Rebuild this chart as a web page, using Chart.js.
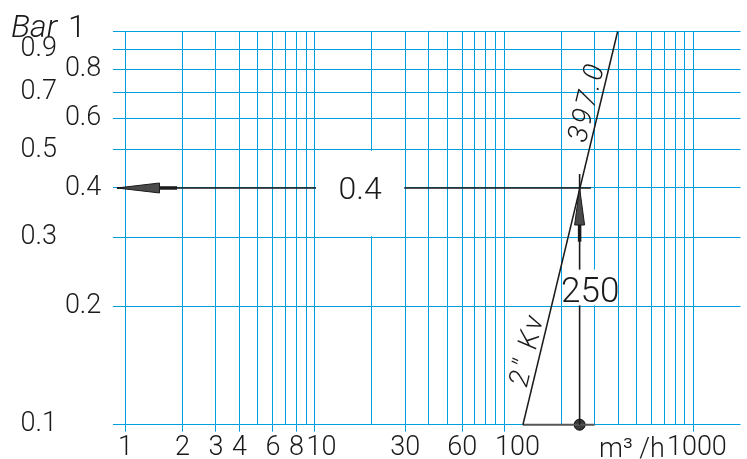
<!DOCTYPE html>
<html><head><meta charset="utf-8">
<script src="https://cdn.jsdelivr.net/npm/chart.js@4/dist/chart.umd.min.js"></script>
<style>html,body{margin:0;padding:0;background:#fff;overflow:hidden;}#wrap{width:747px;height:459px;position:relative;}canvas{display:block;}</style>
</head><body><div id="wrap"><canvas id="c"></canvas></div>
<script>
// ---- data ----
const qTicks = [1,2,3,4,5,6,7,8,9,10,20,30,40,50,60,70,80,90,100,200,300,400,500,600,700,800,900,1000];
const qLabelValues = [1,2,3,4,6,8,10,30,60,100,1000];
const qLabelTexts = ['1','2','3','4','6','8','  10','30','60','    100',' 1000'];
const dpGrid = [0.1,0.2,0.3,0.4,0.5,0.6,0.7,0.8,0.9,1];
const dpInnerLabels = [0.2,0.4,0.6,0.8];
const dpOuterLabels = [0.1,0.3,0.5,0.7,0.9];
const kvQ = [125.5, 397];
const kvDp = [0.1, 1];
const readQ = [250, 250];
const readDp = [0.1, 0.434];
const leaderQ = [0.9, 287];
const leaderDp = [0.4, 0.4];
const baseQ = [125.5, 300];
const baseDp = [0.1, 0.1];
const markerQ = [250];
const markerDp = [0.1];
const kvText = '397.0';
const sizeText = '2" Kv';
const readText = '250';
const dpText = '0.4';

const pts = (xs, ys) => xs.map((v, i) => ({x: v, y: ys[i]}));
const BLUE = '#00a0e0';
const INK = '#1a1a1a';
const FONT = 'Roboto, "DejaVu Sans", sans-serif';

const overlay = {
  id: 'overlay',
  afterDatasetsDraw(chart) {
    const {ctx} = chart;
    const x = chart.scales.x, y = chart.scales.y;
    const X = v => x.getPixelForValue(v), Y = v => y.getPixelForValue(v);
    ctx.save();
    // arrow heads
    ctx.fillStyle = '#4a4a4a'; ctx.strokeStyle = INK; ctx.lineWidth = 1;
    const hy = Y(0.4), tip = X(0.9), hb = X(1.51), hs = X(1.87);
    ctx.beginPath(); ctx.moveTo(tip, hy); ctx.lineTo(hb, hy - 5); ctx.lineTo(hb, hy + 5); ctx.closePath(); ctx.fill(); ctx.stroke();
    ctx.lineWidth = 3.5; ctx.beginPath(); ctx.moveTo(hb, hy); ctx.lineTo(hs, hy); ctx.stroke();
    const vx = X(250), vt = Y(0.4), vb = Y(0.322), vs = Y(0.292);
    ctx.lineWidth = 1;
    ctx.beginPath(); ctx.moveTo(vx, vt); ctx.lineTo(vx - 5, vb); ctx.lineTo(vx + 5, vb); ctx.closePath(); ctx.fill(); ctx.stroke();
    ctx.lineWidth = 3.5; ctx.beginPath(); ctx.moveTo(vx, vb); ctx.lineTo(vx, vs); ctx.stroke();
    // white label boxes
    ctx.fillStyle = '#fff';
    const b1 = [X(10) + 1, Y(0.5) + 1, X(30) - 1, Y(0.3) - 1];
    ctx.fillRect(b1[0], b1[1], b1[2] - b1[0], b1[3] - b1[1]);
    const b2 = [X(200) + 1.5, Y(0.248), X(392), Y(0.2) - 1];
    ctx.fillRect(b2[0], b2[1], b2[2] - b2[0], b2[3] - b2[1]);
    // texts
    ctx.fillStyle = INK;
    ctx.textAlign = 'center'; ctx.textBaseline = 'alphabetic';
    ctx.font = '300 32px ' + FONT;
    ctx.fillText(dpText, (b1[0] + b1[2]) / 2, Y(0.4) + 11);
    ctx.font = '300 35px ' + FONT;
    ctx.fillText(readText, (b2[0] + b2[2]) / 2 + 0.5, Y(0.2) - 4.5);
    // rotated texts along Kv line
    const p0 = {x: X(kvQ[0]), y: Y(kvDp[0])}, p1 = {x: X(kvQ[1]), y: Y(kvDp[1])};
    const ang = Math.atan2(p1.y - p0.y, p1.x - p0.x);
    const along = (t, f, off, size, sp) => {
      const px = p0.x + (p1.x - p0.x) * f, py = p0.y + (p1.y - p0.y) * f;
      ctx.save(); ctx.translate(px, py); ctx.rotate(ang);
      ctx.font = 'italic 300 ' + size + 'px ' + FONT;
      try { ctx.letterSpacing = sp + 'px'; } catch (e) {}
      ctx.textAlign = 'center'; ctx.textBaseline = 'alphabetic';
      ctx.fillText(t, 0, -off); ctx.restore();
    };
    along(kvText, (p0.y - 105) / (p0.y - p1.y), 5, 28, 3);
    along(sizeText, (p0.y - 353) / (p0.y - p1.y), 5, 28, 3);
    // axis captions
    ctx.textAlign = 'left';
    ctx.font = 'italic 300 32px ' + FONT;
    ctx.fillText('Bar', 11, 37);
    ctx.font = '300 32px ' + FONT;
    ctx.fillText('1', 68, 37);
    ctx.font = '300 27px ' + FONT;
    ctx.fillText('m\u00B3 /h', 599, 457);
    ctx.restore();
  }
};

const logAxisY = (vals, width, pad, showGrid, labelVals, weight) => ({
  type: 'logarithmic', position: 'left', min: 0.1, max: 1, weight: weight,
  afterBuildTicks: s => { s.ticks = vals.map(v => ({value: v})); },
  afterFit: s => { s.width = width; s.paddingTop = 0; s.paddingBottom = 0; },
  border: {display: false},
  grid: {display: showGrid, color: BLUE, lineWidth: 1, drawTicks: false},
  ticks: {
    autoSkip: false, padding: pad, color: INK,
    font: {family: FONT, size: 27, weight: 300},
    callback: v => labelVals.includes(v) ? v.toFixed(1) : ''
  }
});

new Chart(document.getElementById('c'), {
  type: 'line',
  data: {
    datasets: [
      {data: pts(kvQ, kvDp), borderColor: INK, borderWidth: 1.5, pointRadius: 0, clip: false},
      {data: pts(leaderQ, leaderDp), borderColor: INK, borderWidth: 1.6, pointRadius: 0, clip: false},
      {data: pts(readQ, readDp), borderColor: INK, borderWidth: 1.6, pointRadius: 0, clip: false},
      {data: pts(baseQ, baseDp), borderColor: '#555', borderWidth: 2, pointRadius: 0, clip: false},
      {data: pts(markerQ, markerDp), showLine: false, pointRadius: 5.5, pointStyle: 'circle',
       pointBackgroundColor: '#3a3a3a', pointBorderColor: '#000', pointBorderWidth: 1, clip: false}
    ]
  },
  options: {
    responsive: true, maintainAspectRatio: false, animation: false, devicePixelRatio: 1,
    layout: {padding: {top: 31.5, right: 0, left: 0, bottom: 0}},
    plugins: {legend: {display: false}, tooltip: {enabled: false}},
    elements: {line: {tension: 0}},
    scales: {
      x: {
        type: 'logarithmic', min: 0.861, max: 1769,
        afterBuildTicks: s => { s.ticks = qTicks.map(v => ({value: v})); },
        afterFit: s => { s.height = 34.3; s.paddingLeft = 0; s.paddingRight = 0; },
        border: {display: false},
        grid: {color: BLUE, lineWidth: 1, drawTicks: true, tickLength: 7,
               tickColor: c => (c.tick && qLabelValues.includes(c.tick.value)) ? BLUE : 'rgba(0,0,0,0)'},
        ticks: {
          autoSkip: false, maxRotation: 0, padding: 0, color: INK,
          font: {family: FONT, size: 27, weight: 300},
          callback: v => { const i = qLabelValues.indexOf(v); return i >= 0 ? qLabelTexts[i] : ''; }
        }
      },
      y: logAxisY(dpGrid, 52.3, 12, true, dpInnerLabels, 0),
      y2: logAxisY(dpOuterLabels, 61, 4, false, dpOuterLabels, 1)
    }
  },
  plugins: [overlay]
});
</script></body></html>
